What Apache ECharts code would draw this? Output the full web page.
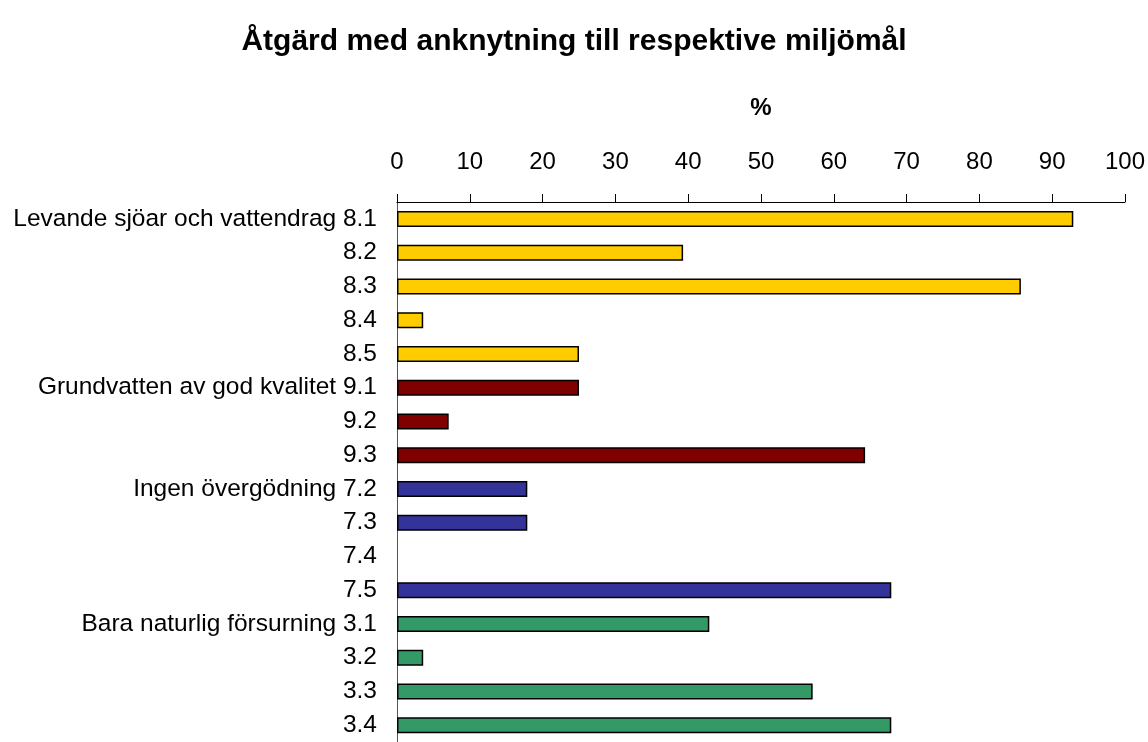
<!DOCTYPE html>
<html lang="sv">
<head>
    <meta charset="UTF-8">
    <title>Åtgärd med anknytning till respektive miljömål</title>
    <script type="text/javascript" src="https://cdn.jsdelivr.net/npm/echarts@6/dist/echarts.min.js"></script>
    <style type="text/css">
        html, body { margin: 0; padding: 0; background: #fff; }
        #main { width: 1148px; height: 742px; }
    </style>
</head>
<body>
<div id="main"></div>
<script type="text/javascript">
    var categories = [
        'Levande sjöar och vattendrag 8.1', '8.2', '8.3', '8.4', '8.5',
        'Grundvatten av god kvalitet 9.1', '9.2', '9.3',
        'Ingen övergödning 7.2', '7.3', '7.4', '7.5',
        'Bara naturlig försurning 3.1', '3.2', '3.3', '3.4'
    ];
    var values = [92.9, 39.3, 85.7, 3.6, 25, 25, 7.1, 64.3, 17.9, 17.9, 0, 67.9, 42.9, 3.6, 57.1, 67.9];
    var groups = ['sjo', 'sjo', 'sjo', 'sjo', 'sjo', 'grund', 'grund', 'grund',
        'overg', 'overg', 'overg', 'overg', 'fors', 'fors', 'fors', 'fors'];
    var xTicks = [0, 100, 10];

    var groupColor = { sjo: '#FFCC00', grund: '#800000', overg: '#333399', fors: '#339966' };
    var font = 'Liberation Sans, Arial, sans-serif';

    // a 0 % bar should leave no outline on the axis
    var data = values.map(function (v, i) {
        return {
            value: v,
            itemStyle: { color: groupColor[groups[i]], borderWidth: v === 0 ? 0 : 1.5 }
        };
    });

    var option = {
        animation: false,
        backgroundColor: '#fff',
        title: {
            text: 'Åtgärd med anknytning till respektive miljömål',
            left: 'center',
            top: 22,
            textStyle: { fontFamily: font, fontSize: 30, fontWeight: 'bold', color: '#000' }
        },
        grid: { left: 397, width: 729, top: 202, height: 546 },
        xAxis: {
            type: 'value',
            position: 'top',
            min: xTicks[0],
            max: xTicks[1],
            interval: xTicks[2],
            name: '%',
            nameLocation: 'middle',
            nameGap: 82,
            nameTextStyle: { fontFamily: font, fontSize: 24, fontWeight: 'bold', color: '#000' },
            axisLine: { show: true, lineStyle: { color: '#000', width: 1 } },
            axisTick: { show: true, length: 8, lineStyle: { color: '#000' } },
            axisLabel: { fontFamily: font, fontSize: 24, color: '#000', margin: 28 },
            splitLine: { show: false }
        },
        yAxis: {
            type: 'category',
            inverse: true,
            data: categories,
            axisLine: { show: true, lineStyle: { color: '#555', width: 1 } },
            axisTick: { show: false },
            axisLabel: { fontFamily: font, fontSize: 24.5, color: '#000', margin: 20 }
        },
        series: [{
            type: 'bar',
            data: data,
            barWidth: 16,
            itemStyle: { borderColor: '#000' }
        }]
    };

    var myChart = echarts.init(document.getElementById('main'));
    myChart.setOption(option);
</script>
</body>
</html>
